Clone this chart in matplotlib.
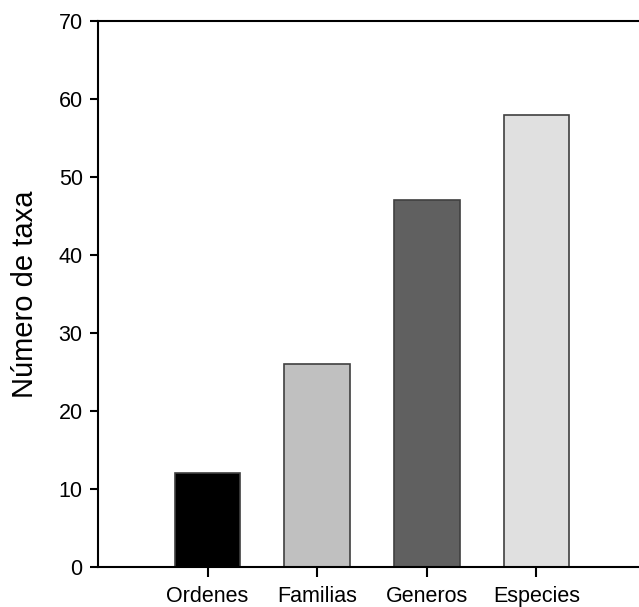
import matplotlib
matplotlib.use("Agg")
import matplotlib.pyplot as plt

categories = ["Ordenes", "Familias", "Generos", "Especies"]
values = [12, 26, 47, 58]
colors = ["#000000", "#c0c0c0", "#606060", "#e0e0e0"]

plt.rcParams["font.family"] = ["Liberation Sans", "DejaVu Sans"]

fig = plt.figure(figsize=(6.39, 6.07), dpi=100)
ax = fig.add_axes([98 / 639, 1 - 567 / 607, 548 / 639, 546 / 607])

x = list(range(len(categories)))
ax.bar(x, values, width=0.6, color=colors, edgecolor="#404040", linewidth=1.2)

ax.set_xlim(-1.0, 4.0)
ax.set_ylim(0, 70)
ax.set_yticks(range(0, 71, 10))
ax.set_xticks(x)
ax.set_xticklabels(categories)

for side in ["top", "bottom", "left"]:
    ax.spines[side].set_linewidth(1.5)
ax.spines["right"].set_visible(False)

ax.tick_params(axis="y", direction="out", length=6, width=1.5, labelsize=15.5, pad=5)
ax.tick_params(axis="x", direction="out", length=7, width=1.5, labelsize=15.5, pad=7)

ax.set_ylabel("Número de taxa", fontsize=21, labelpad=14)

fig.savefig("out.png", dpi=100)
